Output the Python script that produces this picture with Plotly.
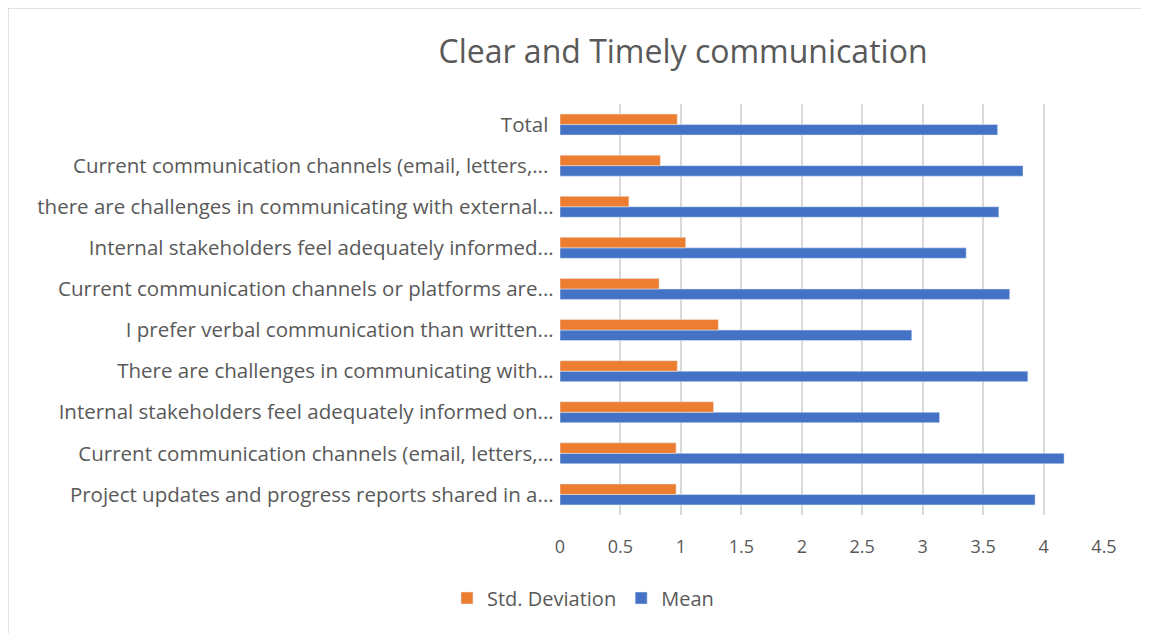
import plotly.graph_objects as go

# Survey items (bottom to top, as in the chart)
categories = [
    "Project updates and progress reports shared in a...",
    "Current communication channels (email, letters,...",
    "Internal stakeholders feel adequately informed on...",
    "There are challenges in communicating with...",
    "I prefer verbal communication than written...",
    "Current communication channels or platforms are...",
    "Internal stakeholders feel adequately informed...",
    "there are challenges in communicating with external...",
    "Current communication channels (email, letters,... ",
    "Total ",
]
mean = [3.93, 4.17, 3.14, 3.87, 2.91, 3.72, 3.36, 3.63, 3.83, 3.62]
std_dev = [0.96, 0.96, 1.27, 0.97, 1.31, 0.82, 1.04, 0.57, 0.83, 0.97]

# page body has an 8px margin, so work in shifted coordinates
OFF = 8
W, H = 1149 - OFF, 633 - OFF
L, R, T, B = 560 - OFF, 45, 104 - OFF, 118

fig = go.Figure()
fig.add_trace(go.Bar(y=categories, x=mean, orientation="h", name="Mean",
                     marker=dict(color="#4472C4")))
fig.add_trace(go.Bar(y=categories, x=std_dev, orientation="h", name="Std. Deviation",
                     marker=dict(color="#ED7D31")))

# paper coords for the thin outer border (top and left edges only)
def px_x(p):
    return (p - OFF - L) / (W - L - R)

def px_y(p):
    return (H - B - (p - OFF)) / (H - T - B)

fig.update_layout(
    width=W, height=H,
    margin=dict(l=L, r=R, t=T, b=B),
    paper_bgcolor="white", plot_bgcolor="white",
    font=dict(family="Open Sans", color="#595959", size=18),
    title=dict(text="Clear and Timely communication", x=(683 - OFF) / W, xanchor="center",
               y=1 - (52 - OFF) / H, yanchor="middle",
               font=dict(size=32, color="#595959")),
    barmode="group", bargap=0.49, bargroupgap=0,
    showlegend=True,
    legend=dict(orientation="h", x=(583 - OFF) / W, xref="container", xanchor="center",
                y=1 - (598 - OFF) / H, yref="container", yanchor="middle",
                traceorder="reversed", font=dict(size=20, color="#595959"),
                itemwidth=30),
    xaxis=dict(range=[0, 4.5], dtick=0.5, showgrid=True, gridcolor="#d9d9d9",
               gridwidth=1.5, zeroline=False, ticks="", showline=False,
               ticklabelstandoff=19, tickfont=dict(size=18)),
    yaxis=dict(showgrid=False, ticks="", ticksuffix=" ", showline=False,
               tickfont=dict(size=20.5)),
    shapes=[
        dict(type="line", xref="paper", yref="paper", x0=px_x(8), x1=px_x(1149),
             y0=px_y(8), y1=px_y(8), line=dict(color="#d9d9d9", width=1.5)),
        dict(type="line", xref="paper", yref="paper", x0=px_x(8), x1=px_x(8),
             y0=px_y(8), y1=px_y(633), line=dict(color="#d9d9d9", width=1.5)),
    ],
)

fig.write_html("out.html")
